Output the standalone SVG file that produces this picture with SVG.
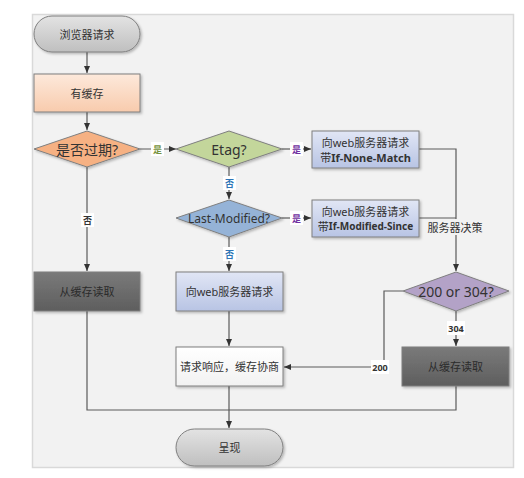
<svg xmlns="http://www.w3.org/2000/svg" width="524" height="478" viewBox="0 0 524 478">
<style>
text{font-family:"Noto Sans","Noto Sans CJK SC",sans-serif;text-anchor:middle;dominant-baseline:central;fill:#333}
.t{font-size:11px}
.big{font-size:14px}
.c{fill:none;stroke:#5a5a5a;stroke-width:1.2}
.node{stroke:#7f7f7f;stroke-width:1}
.lbl{font-size:9px;font-weight:bold}
</style>
<defs>
<marker id="ah" markerWidth="8" markerHeight="8" refX="7" refY="4" orient="auto" markerUnits="userSpaceOnUse">
<path d="M0,1 L7,4 L0,7 Z" fill="#333"/>
</marker>
<filter id="sh" x="-10%" y="-10%" width="130%" height="140%">
<feDropShadow dx="1.5" dy="1.5" stdDeviation="1" flood-color="#000" flood-opacity="0.25"/>
</filter>
<linearGradient id="gGray" x1="0" y1="0" x2="0" y2="1"><stop offset="0" stop-color="#e3e3e3"/><stop offset="1" stop-color="#bfbfbf"/></linearGradient>
<linearGradient id="gPeach" x1="0" y1="0" x2="0" y2="1"><stop offset="0" stop-color="#fde9db"/><stop offset="1" stop-color="#f8cbad"/></linearGradient>
<linearGradient id="gBlue" x1="0" y1="0" x2="0" y2="1"><stop offset="0" stop-color="#e1e6f5"/><stop offset="1" stop-color="#b8c4e4"/></linearGradient>
<linearGradient id="gDark" x1="0" y1="0" x2="0" y2="1"><stop offset="0" stop-color="#7a7a7a"/><stop offset="1" stop-color="#5e5e5e"/></linearGradient>
<linearGradient id="gWhite" x1="0" y1="0" x2="0" y2="1"><stop offset="0" stop-color="#ffffff"/><stop offset="1" stop-color="#f2f2f2"/></linearGradient>
</defs>
<rect x="0" y="0" width="524" height="478" fill="#ffffff"/>
<rect x="32.5" y="14.5" width="481" height="453" fill="#f2f2f2" stroke="#d9d9d9" stroke-width="1.5"/>

<g id="connectors">
<path class="c" d="M87,52 V73" marker-end="url(#ah)"/>
<path class="c" d="M87,112 V130" marker-end="url(#ah)"/>
<path class="c" d="M140,149 H176" marker-end="url(#ah)"/>
<path class="c" d="M282,149 H311" marker-end="url(#ah)"/>
<path class="c" d="M229,167 V199" marker-end="url(#ah)"/>
<path class="c" d="M282,218 H311" marker-end="url(#ah)"/>
<path class="c" d="M229,237 V271" marker-end="url(#ah)"/>
<path class="c" d="M229,311 V346" marker-end="url(#ah)"/>
<path class="c" d="M229,386 V428" marker-end="url(#ah)"/>
<path class="c" d="M87,167 V271" marker-end="url(#ah)"/>
<path class="c" d="M87,311 V410 H229"/>
<path class="c" d="M419,149 H456 V271" marker-end="url(#ah)"/>
<path class="c" d="M419,218 H456"/>
<path class="c" d="M403,291 H384 V367 H284" marker-end="url(#ah)"/>
<path class="c" d="M456,311 V346" marker-end="url(#ah)"/>
<path class="c" d="M456,386 V410 H229"/>
<rect x="151" y="142" width="13" height="14" fill="#fff"/>
<text class="lbl" x="157.5" y="149" style="fill:#76923c">是</text>
<rect x="290" y="142" width="13" height="14" fill="#fff"/>
<text class="lbl" x="296.5" y="149" style="fill:#7030a0">是</text>
<rect x="290" y="211" width="13" height="14" fill="#fff"/>
<text class="lbl" x="296.5" y="218" style="fill:#7030a0">是</text>
<rect x="223" y="176" width="13" height="14" fill="#fff"/>
<text class="lbl" x="229.5" y="183" style="fill:#2e75b6">否</text>
<rect x="223" y="247" width="13" height="14" fill="#fff"/>
<text class="lbl" x="229.5" y="254" style="fill:#2e75b6">否</text>
<rect x="81" y="213" width="13" height="14" fill="#fff"/>
<text class="lbl" x="87.5" y="220">否</text>
<rect x="428" y="219" width="54" height="16" fill="#f2f2f2"/>
<text class="t" x="455" y="227">服务器决策</text>
<rect x="371" y="360" width="18" height="14" fill="#fff"/>
<text class="lbl" x="380" y="367">200</text>
<rect x="447" y="321" width="18" height="14" fill="#fff"/>
<text class="lbl" x="456" y="328">304</text>
</g>

<g id="n-start">
<rect class="node" x="34" y="16" width="106" height="36" rx="18" fill="url(#gGray)" filter="url(#sh)"/>
<text class="t" x="87" y="34">浏览器请求</text>
</g>
<g id="n-cache">
<rect class="node" x="34" y="74" width="106" height="38" fill="url(#gPeach)" filter="url(#sh)"/>
<text class="t" x="87" y="93">有缓存</text>
</g>
<g id="n-expired">
<polygon class="node" points="34,149 87,131 140,149 87,167" fill="#f6b183" filter="url(#sh)"/>
<text class="big" x="87" y="149">是否过期?</text>
</g>
<g id="n-etag">
<polygon class="node" points="176,149 229,131 282,149 229,167" fill="#c3d69b" filter="url(#sh)"/>
<text class="big" x="229" y="149">Etag?</text>
</g>
<g id="n-lastmod">
<polygon class="node" points="176,218 229,200 282,218 229,237" fill="#95b3d7" filter="url(#sh)"/>
<text x="229" y="218" style="font-size:12px">Last-Modified?</text>
</g>
<g id="n-inm">
<rect class="node" x="312" y="131" width="107" height="37" fill="url(#gBlue)" filter="url(#sh)"/>
<text class="t" x="365.5" y="142">向web服务器请求</text>
<text class="t" x="365.5" y="157">带<tspan font-weight="bold">If-None-Match</tspan></text>
</g>
<g id="n-ims">
<rect class="node" x="312" y="200" width="107" height="37" fill="url(#gBlue)" filter="url(#sh)"/>
<text class="t" x="365.5" y="211">向web服务器请求</text>
<text class="t" x="365.5" y="226">带<tspan font-weight="bold" style="font-size:10px">If-Modified-Since</tspan></text>
</g>
<g id="n-readcache1">
<rect class="node" x="34" y="272" width="106" height="39" fill="url(#gDark)" filter="url(#sh)"/>
<text class="t" x="87" y="291.5" style="fill:#2b2b2b">从缓存读取</text>
</g>
<g id="n-request">
<rect class="node" x="176" y="272" width="107" height="39" fill="url(#gBlue)" filter="url(#sh)"/>
<text class="t" x="229.5" y="291.5">向web服务器请求</text>
</g>
<g id="n-status">
<polygon class="node" points="403,291 456,272 509,291 456,311" fill="#b3a2c7" filter="url(#sh)"/>
<text class="big" x="456" y="291">200 or 304?</text>
</g>
<g id="n-negotiate">
<rect class="node" x="176" y="347" width="107" height="39" fill="url(#gWhite)" filter="url(#sh)"/>
<text class="t" x="229.5" y="366.5">请求响应，缓存协商</text>
</g>
<g id="n-readcache2">
<rect class="node" x="402" y="347" width="107" height="39" fill="url(#gDark)" filter="url(#sh)"/>
<text class="t" x="455.5" y="366.5" style="fill:#2b2b2b">从缓存读取</text>
</g>
<g id="n-render">
<rect class="node" x="176" y="429" width="107" height="37" rx="18.5" fill="url(#gGray)" filter="url(#sh)"/>
<text class="t" x="229.5" y="447.5">呈现</text>
</g>
</svg>
